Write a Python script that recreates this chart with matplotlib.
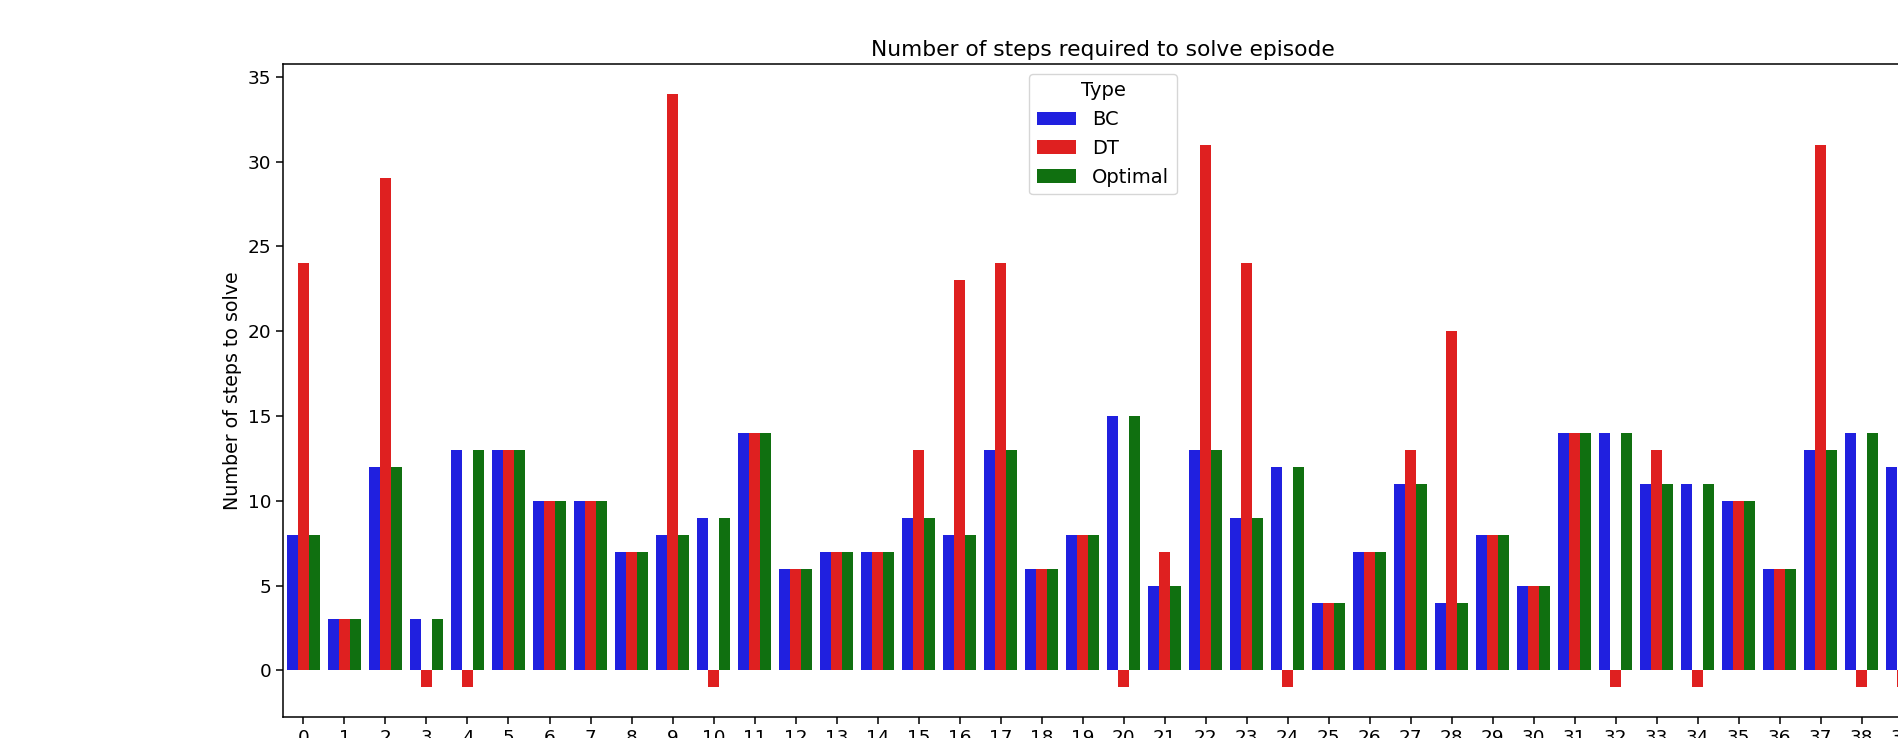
import numpy as np
import pandas as pd
import matplotlib
matplotlib.use("Agg")
import matplotlib.pyplot as plt
import seaborn as sns

# steps per episode (-1 = not solved)
episodes = list(range(40))
bc = [8, 3, 12, 3, 13, 13, 10, 10, 7, 8,
      9, 14, 6, 7, 7, 9, 8, 13, 6, 8,
      15, 5, 13, 9, 12, 4, 7, 11, 4, 8,
      5, 14, 14, 11, 11, 10, 6, 13, 14, 12]
dt = [24, 3, 29, -1, -1, 13, 10, 10, 7, 34,
      -1, 14, 6, 7, 7, 13, 23, 24, 6, 8,
      -1, 7, 31, 24, -1, 4, 7, 13, 20, 8,
      5, 14, -1, 13, -1, 10, 6, 31, -1, -1]
optimal = [8, 3, 12, 3, 13, 13, 10, 10, 7, 8,
           9, 14, 6, 7, 7, 9, 8, 13, 6, 8,
           15, 5, 13, 9, 12, 4, 7, 11, 4, 8,
           5, 14, 14, 11, 11, 10, 6, 13, 14, 12]

df = pd.DataFrame({
    "episode": episodes * 3,
    "steps": bc + dt + optimal,
    "Type": ["BC"] * 40 + ["DT"] * 40 + ["Optimal"] * 40,
})

fig = plt.figure(figsize=(18.99, 7.38), dpi=100)
# axes runs past the right edge like the original screenshot
ax = fig.add_axes([283 / 1899, 21 / 738, 1640 / 1899, 653 / 738])
sns.barplot(data=df, x="episode", y="steps", hue="Type",
            palette=["blue", "red", "green"], ax=ax)

ax.set_title("Number of steps required to solve episode", fontsize=15.7)
ax.set_xlabel("")
ax.set_ylabel("Number of steps to solve", fontsize=13.7)
ax.tick_params(labelsize=13.3, length=5, width=1.1)
for s in ax.spines.values():
    s.set_linewidth(1.1)
ax.legend(title="Type", loc="upper center", fontsize=14, title_fontsize=14)

fig.savefig("out.png", dpi=100)
